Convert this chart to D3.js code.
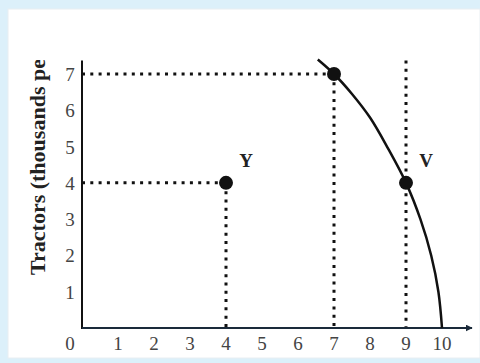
<!DOCTYPE html>
<html>
<head>
<meta charset="utf-8">
<script src="https://cdn.jsdelivr.net/npm/d3@7"></script>
<style>
  body { margin: 0; background: #dcf0fa; }
  svg { display: block; }
</style>
</head>
<body>
<script>
// tick labels
var xTicks = [0, 1, 2, 3, 4, 5, 6, 7, 8, 9, 10];
var yTicks = [1, 2, 3, 4, 5, 6, 7];

// production possibilities frontier
var curveX = [6.55, 7, 7.5, 8, 8.5, 9, 9.4, 9.7, 9.9, 10];
var curveY = [7.4, 7, 6.45, 5.8, 4.95, 4, 3, 2, 1, 0];

// labelled points
var pointNames = ["Y", "", "V"];
var pointX = [4, 7, 9];
var pointY = [4, 7, 4];

var width = 480, height = 363;

var svg = d3.select("body").append("svg")
    .attr("width", width)
    .attr("height", height);

// white panel inside the light blue frame
svg.append("rect")
    .attr("x", 8).attr("y", 9)
    .attr("width", width - 8).attr("height", 349)
    .attr("fill", "#ffffff")
    .attr("stroke", "#e8eef2");

var x = d3.scaleLinear().domain([0, 10]).range([82, 442]);
var y = d3.scaleLinear().domain([0, 7]).range([328, 74]);

var serif = "'Liberation Serif', 'DejaVu Serif', serif";

// arrow marker for the x-axis
svg.append("defs").append("marker")
    .attr("id", "arrow")
    .attr("viewBox", "0 0 10 10")
    .attr("refX", 9).attr("refY", 5)
    .attr("markerWidth", 7).attr("markerHeight", 7)
    .attr("markerUnits", "userSpaceOnUse")
    .attr("orient", "auto")
    .append("path")
    .attr("d", "M0,0 L10,5 L0,10 Z")
    .attr("fill", "#1a2a3a");

svg.select("defs").append("clipPath")
    .attr("id", "labelClip")
    .append("rect")
    .attr("x", 0).attr("y", 60).attr("width", 60).attr("height", 280);

// dotted guide lines
var dotted = [
  [0, 7, 7, 7], [7, 7, 7, 0],
  [0, 4, 4, 4], [4, 4, 4, 0],
  [9, 7.37, 9, 0]
];
svg.selectAll(".guide").data(dotted).enter().append("line")
    .attr("class", "guide")
    .attr("x1", function(d) { return x(d[0]); })
    .attr("y1", function(d) { return y(d[1]); })
    .attr("x2", function(d) { return x(d[2]); })
    .attr("y2", function(d) { return y(d[3]); })
    .attr("stroke", "#111")
    .attr("stroke-width", 3)
    .attr("stroke-dasharray", "3,5.3");

// axes
svg.append("line")
    .attr("x1", x(0)).attr("y1", y(0) + 1)
    .attr("x2", x(0)).attr("y2", y(7.37))
    .attr("stroke", "#111").attr("stroke-width", 2);
svg.append("line")
    .attr("x1", x(0)).attr("y1", y(0))
    .attr("x2", 472).attr("y2", y(0))
    .attr("stroke", "#1a2a3a").attr("stroke-width", 1.8)
    .attr("marker-end", "url(#arrow)");

// tick labels
svg.selectAll(".xt").data(xTicks).enter().append("text")
    .attr("class", "xt")
    .attr("x", function(d) { return d === 0 ? 70 : x(d); })
    .attr("y", 350)
    .attr("text-anchor", "middle")
    .attr("font-family", serif)
    .attr("font-size", 19)
    .attr("fill", "#444")
    .text(function(d) { return d; });

svg.selectAll(".yt").data(yTicks).enter().append("text")
    .attr("class", "yt")
    .attr("x", 70)
    .attr("y", function(d) { return y(d) + 7; })
    .attr("text-anchor", "middle")
    .attr("font-family", serif)
    .attr("font-size", 19)
    .attr("fill", "#444")
    .text(function(d) { return d; });

// y-axis title, cut off at the top like the reference
svg.append("g")
    .attr("clip-path", "url(#labelClip)")
    .append("text")
    .attr("transform", "translate(45,275) rotate(-90)")
    .attr("font-family", serif)
    .attr("font-size", 22)
    .attr("font-weight", "bold")
    .attr("fill", "#222")
    .text("Tractors (thousands per year)");

// frontier curve
var curvePoints = curveX.map(function(d, i) { return [d, curveY[i]]; });
svg.append("path")
    .datum(curvePoints)
    .attr("d", d3.line()
        .x(function(d) { return x(d[0]); })
        .y(function(d) { return y(d[1]); })
        .curve(d3.curveCatmullRom))
    .attr("fill", "none")
    .attr("stroke", "#111")
    .attr("stroke-width", 2.5);

// points
svg.selectAll(".pt").data(pointX).enter().append("circle")
    .attr("class", "pt")
    .attr("cx", function(d) { return x(d); })
    .attr("cy", function(d, i) { return y(pointY[i]); })
    .attr("r", 7)
    .attr("fill", "#111");

svg.selectAll(".pl").data(pointNames).enter().append("text")
    .attr("class", "pl")
    .attr("x", function(d, i) { return x(pointX[i]) + 20; })
    .attr("y", function(d, i) { return y(pointY[i]) - 16; })
    .attr("text-anchor", "middle")
    .attr("font-family", serif)
    .attr("font-size", 19)
    .attr("font-weight", "bold")
    .attr("fill", "#222")
    .text(function(d) { return d; });
</script>
</body>
</html>
